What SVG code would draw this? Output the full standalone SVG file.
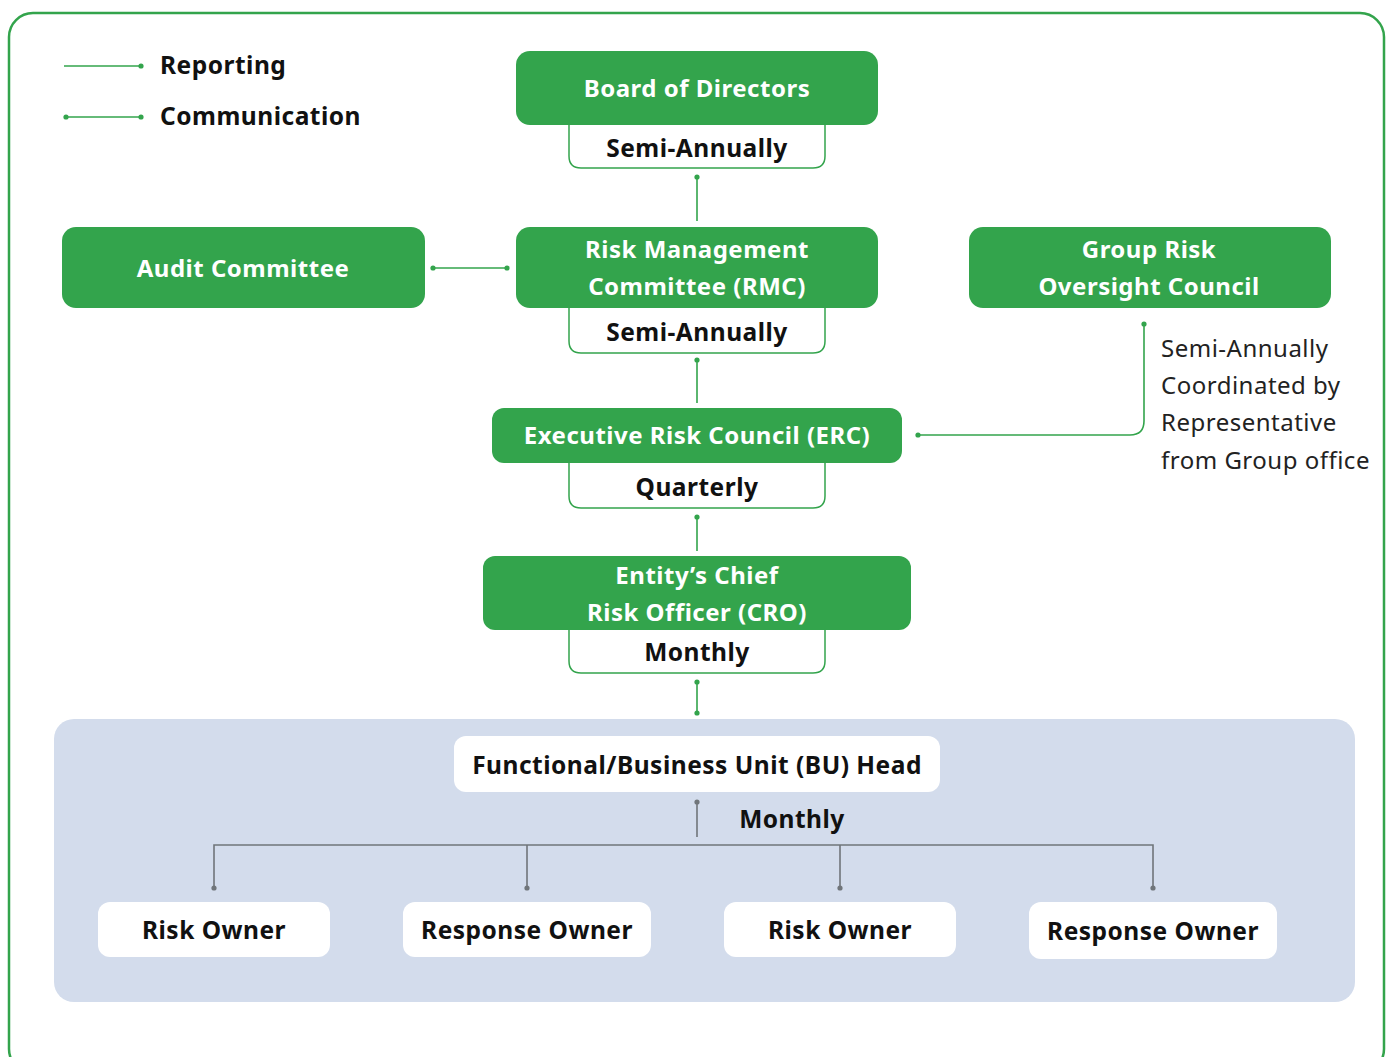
<svg xmlns="http://www.w3.org/2000/svg" width="1391" height="1057" viewBox="0 0 1391 1057">
<style>
.g{fill:#33a44c}
.w{fill:#fff}
.freq{fill:#fff;stroke:#33a44c;stroke-width:1.5}
.tw{font-family:"Noto Sans",sans-serif;font-weight:bold;font-size:24px;letter-spacing:0.5px;fill:#fff;text-anchor:middle}
.tb{font-family:"Noto Sans",sans-serif;font-weight:bold;font-size:24.5px;letter-spacing:0.5px;fill:#111;text-anchor:middle}
.tl{font-family:"Noto Sans",sans-serif;font-size:24px;letter-spacing:0.5px;fill:#222}
.cg{stroke:#33a44c;stroke-width:1.6;fill:none}
.cx{stroke:#70757a;stroke-width:1.6;fill:none}
.dg{fill:#33a44c}
.dx{fill:#70757a}
</style>
<rect x="9" y="13" width="1375" height="1060" rx="24" fill="none" stroke="#33a44c" stroke-width="2.5"/>
<rect x="54" y="719" width="1301" height="283" rx="20" fill="#d3dcec"/>
<g id="legend">
<line x1="64" y1="66" x2="141" y2="66" class="cg"/><circle cx="141" cy="66" r="2.6" class="dg"/>
<text x="160" y="74" class="tb" style="text-anchor:start">Reporting</text>
<line x1="66" y1="117" x2="141" y2="117" class="cg"/><circle cx="66" cy="117" r="2.6" class="dg"/><circle cx="141" cy="117" r="2.6" class="dg"/>
<text x="160" y="125" class="tb" style="text-anchor:start">Communication</text>
</g>
<g id="connectors">
<line x1="697" y1="177" x2="697" y2="221" class="cg"/><circle cx="697" cy="177" r="2.6" class="dg"/>
<line x1="433" y1="268" x2="507" y2="268" class="cg"/><circle cx="433" cy="268" r="2.6" class="dg"/><circle cx="507" cy="268" r="2.6" class="dg"/>
<path d="M1144 324 V421 Q1144 435 1130 435 H918" class="cg"/><circle cx="1144" cy="324" r="2.6" class="dg"/><circle cx="918" cy="435" r="2.6" class="dg"/>
<line x1="697" y1="360" x2="697" y2="403" class="cg"/><circle cx="697" cy="360" r="2.6" class="dg"/>
<line x1="697" y1="517" x2="697" y2="551" class="cg"/><circle cx="697" cy="517" r="2.6" class="dg"/>
<line x1="697" y1="682" x2="697" y2="713" class="cg"/><circle cx="697" cy="682" r="2.6" class="dg"/><circle cx="697" cy="713" r="2.6" class="dg"/>
<line x1="697" y1="802" x2="697" y2="837" class="cx"/><circle cx="697" cy="802" r="2.6" class="dx"/>
<path d="M214 888 V845 H1153 V888 M527 845 V888 M840 845 V888" class="cx"/>
<circle cx="214" cy="888" r="2.6" class="dx"/><circle cx="527" cy="888" r="2.6" class="dx"/><circle cx="840" cy="888" r="2.6" class="dx"/><circle cx="1153" cy="888" r="2.6" class="dx"/>
</g>
<g id="bod">
<path d="M569 120 V156 Q569 168 581 168 H813 Q825 168 825 156 V120 Z" class="freq"/>
<rect x="516" y="51" width="362" height="74" rx="14" class="g"/>
<text x="697" y="97" class="tw">Board of Directors</text>
<text x="697" y="157" class="tb">Semi-Annually</text>
</g>
<g id="audit">
<rect x="62" y="227" width="363" height="81" rx="14" class="g"/>
<text x="243" y="277" class="tw">Audit Committee</text>
</g>
<g id="rmc">
<path d="M569 303 V341 Q569 353 581 353 H813 Q825 353 825 341 V303 Z" class="freq"/>
<rect x="516" y="227" width="362" height="81" rx="14" class="g"/>
<text x="697" y="258" class="tw">Risk Management</text>
<text x="697" y="295" class="tw">Committee (RMC)</text>
<text x="697" y="341" class="tb">Semi-Annually</text>
</g>
<g id="groc">
<rect x="969" y="227" width="362" height="81" rx="14" class="g"/>
<text x="1149" y="258" class="tw">Group Risk</text>
<text x="1149" y="295" class="tw">Oversight Council</text>
</g>
<g id="groc-note">
<text x="1161" y="357" class="tl">Semi-Annually</text>
<text x="1161" y="394" class="tl">Coordinated by</text>
<text x="1161" y="431" class="tl">Representative</text>
<text x="1161" y="469" class="tl">from Group office</text>
</g>
<g id="erc">
<path d="M569 458 V496 Q569 508 581 508 H813 Q825 508 825 496 V458 Z" class="freq"/>
<rect x="492" y="408" width="410" height="55" rx="12" class="g"/>
<text x="697" y="444" class="tw">Executive Risk Council (ERC)</text>
<text x="697" y="496" class="tb">Quarterly</text>
</g>
<g id="cro">
<path d="M569 625 V661 Q569 673 581 673 H813 Q825 673 825 661 V625 Z" class="freq"/>
<rect x="483" y="556" width="428" height="74" rx="12" class="g"/>
<text x="697" y="584" class="tw">Entity’s Chief</text>
<text x="697" y="621" class="tw">Risk Officer (CRO)</text>
<text x="697" y="661" class="tb">Monthly</text>
</g>
<g id="bu-head">
<rect x="454" y="736" width="486" height="56" rx="12" class="w"/>
<text x="697" y="774" class="tb">Functional/Business Unit (BU) Head</text>
<text x="792" y="828" class="tb">Monthly</text>
</g>
<g id="risk-owner-1">
<rect x="98" y="902" width="232" height="55" rx="12" class="w"/>
<text x="214" y="939" class="tb">Risk Owner</text>
</g>
<g id="response-owner-1">
<rect x="403" y="902" width="248" height="55" rx="12" class="w"/>
<text x="527" y="939" class="tb">Response Owner</text>
</g>
<g id="risk-owner-2">
<rect x="724" y="902" width="232" height="55" rx="12" class="w"/>
<text x="840" y="939" class="tb">Risk Owner</text>
</g>
<g id="response-owner-2">
<rect x="1029" y="902" width="248" height="57" rx="12" class="w"/>
<text x="1153" y="940" class="tb">Response Owner</text>
</g>
</svg>
